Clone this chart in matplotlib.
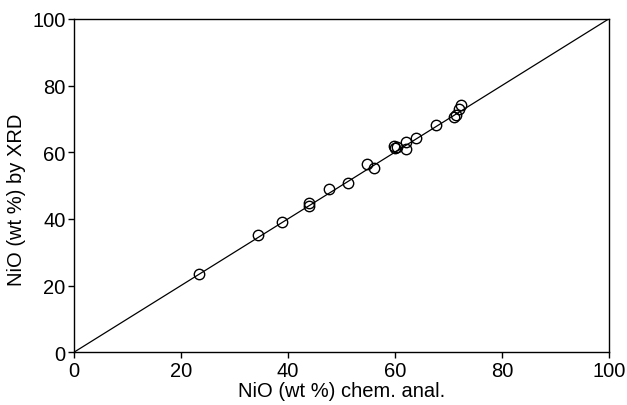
import matplotlib
matplotlib.use("Agg")
import matplotlib.pyplot as plt

# NiO content: chemical analysis vs XRD (wt %)
chem_anal = [23.4, 34.4, 38.8, 43.9, 43.9, 47.7, 51.3, 54.8, 56.1, 59.8, 60.1,
             60.4, 62.0, 62.0, 64.0, 67.7, 71.0, 71.4, 72.0, 72.4]
by_xrd = [23.4, 35.3, 39.2, 44.9, 43.8, 49.1, 50.8, 56.6, 55.4, 61.9, 61.3,
          61.6, 63.1, 61.1, 64.3, 68.1, 70.6, 71.1, 73.1, 74.3]
ref_line = [0, 100]

plt.rcParams['font.family'] = ['Liberation Sans', 'DejaVu Sans']

fig = plt.figure(figsize=(6.27, 4.06), dpi=100)
ax = fig.add_axes([0.118, 0.13, 0.853, 0.821])

ax.plot(ref_line, ref_line, color='black', linewidth=0.9)
ax.plot(chem_anal, by_xrd, linestyle='none', marker='o', markersize=7.5,
        markerfacecolor='none', markeredgecolor='black', markeredgewidth=1.0)

ax.set_xlim(0, 100)
ax.set_ylim(0, 100)
ax.set_xticks(range(0, 101, 20))
ax.set_yticks(range(0, 101, 20))
ax.tick_params(direction='out', length=4.5, width=1, labelsize=14.5, pad=1.5)
for s in ax.spines.values():
    s.set_linewidth(1)

ax.set_xlabel('NiO (wt %) chem. anal.', fontsize=14.5, labelpad=1)
ax.set_ylabel('NiO (wt %) by XRD', fontsize=14.5)
ax.yaxis.set_label_coords(-0.09, 0.46)

fig.savefig('out.png', dpi=100)
plt.close(fig)
